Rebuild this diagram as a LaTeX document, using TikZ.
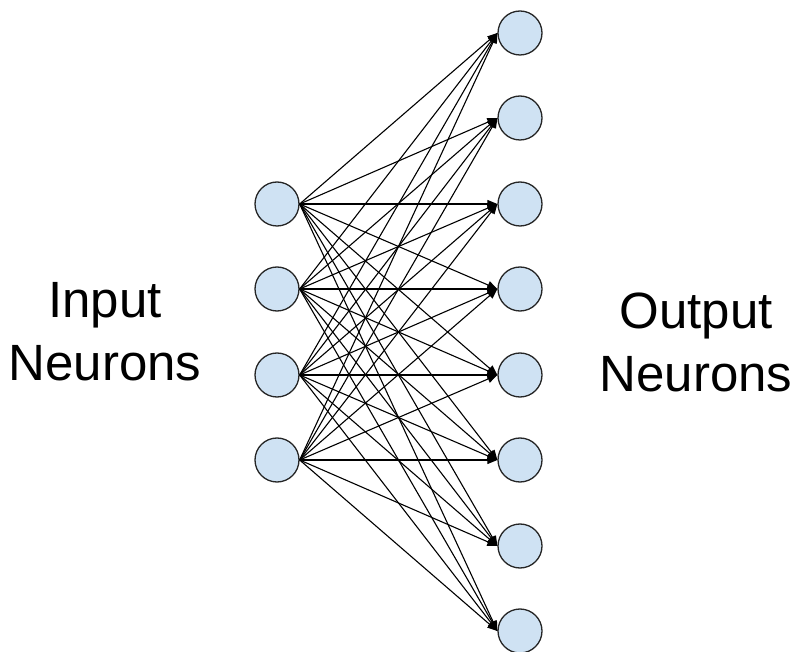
\documentclass[tikz,border=0pt]{standalone}
\usepackage{fontspec}
\setmainfont{Liberation Sans}
\usetikzlibrary{arrows.meta}

\definecolor{neuronblue}{HTML}{CFE2F3}

\begin{document}
\begin{tikzpicture}
  [x=1pt, y=-1pt,
   neuron/.style={draw=black!85, line width=1.3pt, fill=neuronblue, circle,
                  inner sep=0pt, minimum size=44pt},
   layer label/.style={align=center, inner sep=0pt,
                       font=\fontsize{51}{63}\selectfont},
   link/.style={line width=1.1pt, -{Triangle[length=10pt, width=8pt]}}]
  \useasboundingbox (0,0) rectangle (796,652);

  % input layer
  \foreach \i/\y in {1/204, 2/289, 3/375, 4/460}
    \node[neuron] (in\i) at (277,\y) {};

  % output layer
  \foreach \j/\y in {1/33, 2/118, 3/204, 4/289, 5/375, 6/460, 7/546, 8/631}
    \node[neuron] (out\j) at (520,\y) {};

  % every input feeds every output
  \foreach \i in {1,...,4}
    \foreach \j in {1,...,8}
      \draw[link] (in\i.east) -- (out\j.west);

  \node[layer label] (inlabel) at (105,332) {Input\\Neurons};
  \node[layer label] (outlabel) at (696,342) {Output\\Neurons};
\end{tikzpicture}
\end{document}
